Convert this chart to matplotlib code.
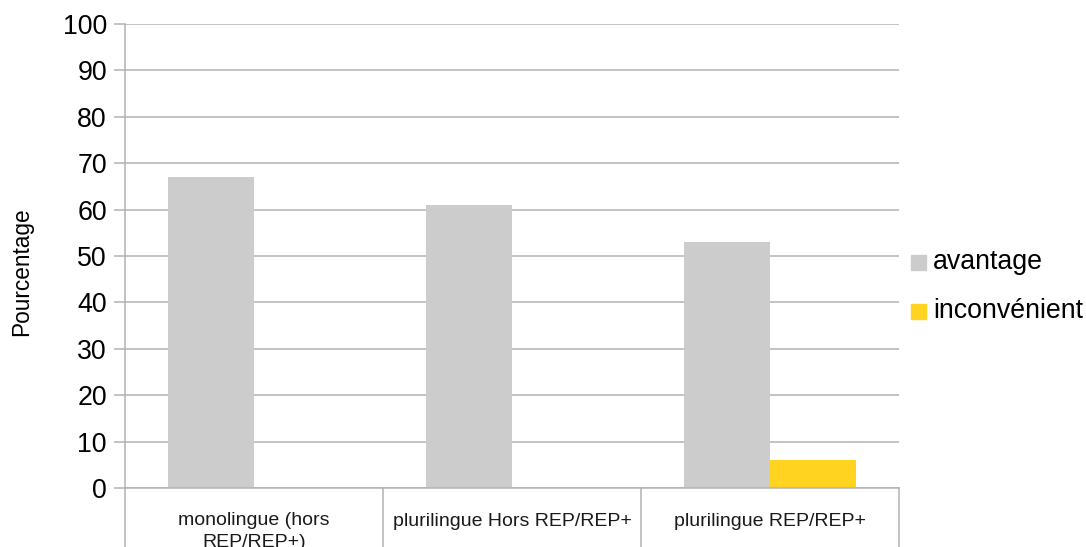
import matplotlib
matplotlib.use("Agg")
import matplotlib.pyplot as plt
import numpy as np
from matplotlib.patches import Rectangle

categories = ["monolingue (hors\nREP/REP+)", "plurilingue Hors REP/REP+", "plurilingue REP/REP+"]
avantage = [67, 61, 53]
inconvenient = [0, 0, 6]
series_names = ["avantage", "inconvénient"]
yticks = [0, 10, 20, 30, 40, 50, 60, 70, 80, 90, 100]

plt.rcParams['font.family'] = ['Liberation Sans', 'DejaVu Sans']

W, H = 1086, 547
fig = plt.figure(figsize=(W / 100, H / 100), dpi=100)
ax = fig.add_axes([125 / W, 1 - 488 / H, (899 - 125) / W, (488 - 24) / H])

x = np.arange(len(categories))
bw = 1 / 3
ax.bar(x - bw / 2, avantage, width=bw, color="#cccccc", label=series_names[0], zorder=2)
ax.bar(x + bw / 2, inconvenient, width=bw, color="#ffd320", label=series_names[1], zorder=2)

ax.set_xlim(-0.5, len(categories) - 0.5)
ax.set_ylim(0, 100)
ax.set_yticks(yticks)
ax.set_yticklabels([str(t) for t in yticks], fontsize=19.3)
ax.yaxis.grid(True, color="#b3b3b3", linewidth=1.1, zorder=0)
ax.tick_params(axis='y', length=8, width=1.1, color="#b3b3b3", pad=5)
ax.set_xticks([])

for s in ["top", "right"]:
    ax.spines[s].set_visible(False)
for s in ["left", "bottom"]:
    ax.spines[s].set_color("#b3b3b3")
    ax.spines[s].set_linewidth(1.1)

# category separators extending below axis
ph = 488 - 24
ext = (547 - 488) / ph
for b in np.arange(len(categories) + 1) - 0.5:
    ax.plot([b, b], [0, -ext], transform=ax.get_xaxis_transform(), color="#b3b3b3",
            linewidth=1.1, clip_on=False)

# category labels (first line centred at ~y=521 px)
for i, c in enumerate(categories):
    if "\n" in c:
        ax.text(i, -(512 - 488) / ph, c, transform=ax.get_xaxis_transform(),
                ha="center", va="top", fontsize=14, color="#1a1a1a", linespacing=1.35)
    else:
        ax.text(i, -(521 - 488) / ph, c, transform=ax.get_xaxis_transform(),
                ha="center", va="center", fontsize=14, color="#1a1a1a")

fig.text(22 / W, 1 - 272 / H, "Pourcentage", rotation=90, ha="center", va="center", fontsize=16.3)

# legend
leg_items = [("#cccccc", series_names[0], 262), ("#ffd320", series_names[1], 311)]
for col, name, yy in leg_items:
    fig.patches.append(Rectangle((911 / W, 1 - (yy + 7.5) / H), 15 / W, 15 / H,
                                 transform=fig.transFigure, color=col))
    fig.text(933 / W, 1 - yy / H, name, ha="left", va="center", fontsize=19.3)

fig.savefig("out.png", dpi=100)
